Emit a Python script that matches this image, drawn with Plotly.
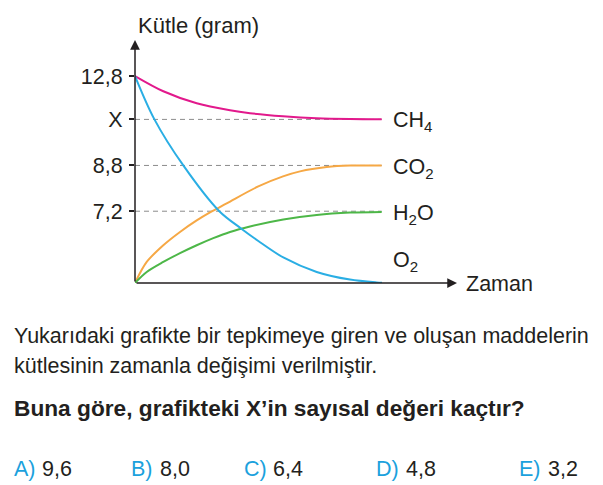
import plotly.graph_objects as go

# ---- data (schematic vertical scale) ----
time_ch4 = [0, 28.3, 61.7, 95, 115, 148, 181.7, 215, 246.7]
mass_ch4 = [206.7, 191.5, 179.5, 172.5, 169.6, 166.6, 164.6, 163.8, 163.6]

time_o2 = [0, 19.3, 48.3, 84.3, 106.7, 123.3, 148.3, 181.7, 215, 241.7, 247]
mass_o2 = [206.7, 163.7, 117.4, 71.7, 54, 42, 25.5, 11, 3.4, 0.6, 0.3]

time_co2 = [0, 11.7, 28.3, 45, 61.7, 75, 91.7, 123.3, 148, 165, 191.7, 215, 246.7]
mass_co2 = [0, 21, 37.7, 51, 62.5, 70.5, 79.5, 96.5, 106.5, 111.5, 115.8, 117.3, 117.4]

time_h2o = [0, 11.7, 28.3, 45, 61.7, 78.3, 95, 115, 148.3, 181.7, 215, 246.7]
mass_h2o = [0, 11, 21, 29.8, 37.7, 44.8, 51, 56.5, 63.5, 68, 70.3, 71]

tick_levels = [206.7, 163.4, 117.4, 71.7]
tick_labels = ["12,8", "X", "8,8", "7,2"]
dashed_levels = [163.4, 117.4, 71.7]

series_names = ["CH<sub>4</sub>", "CO<sub>2</sub>", "H<sub>2</sub>O", "O<sub>2</sub>"]
options_letters = ["A)", "B)", "C)", "D)", "E)"]
options_values = ["9,6", "8,0", "6,4", "4,8", "3,2"]

# ---- layout geometry (pixels) ----
W, H = 603, 485
AX_L, AX_B = 135, 282.7
X_END, Y_END = 457, 40
PW, PH = X_END - AX_L, AX_B - Y_END
FONT = "Liberation Sans, Arial, Helvetica, sans-serif"
BLACK = "#231f20"
FS = 21.5


def px2paper(px):
    return (px - AX_L) / PW


def py2paper(py):
    return (AX_B - py) / PH


fig = go.Figure()

t_end = time_ch4[-1]
for lv in dashed_levels:
    fig.add_trace(go.Scatter(x=[0, t_end], y=[lv, lv], mode="lines",
                             line=dict(color="#8c8c8c", width=1, dash="5px,4px"),
                             hoverinfo="skip", showlegend=False))

curves = [
    (time_ch4, mass_ch4, "#e2198c"),
    (time_co2, mass_co2, "#f6a845"),
    (time_h2o, mass_h2o, "#4db748"),
    (time_o2, mass_o2, "#2aaee4"),
]
for t, m, c in curves:
    fig.add_trace(go.Scatter(x=t, y=m, mode="lines",
                             line=dict(color=c, width=2, shape="spline", smoothing=0.9),
                             showlegend=False))

ann = []
# axes with arrows
ann.append(dict(x=PW, y=0, ax=0, ay=0, xref="x", yref="y", axref="x", ayref="y",
                text="", showarrow=True, arrowhead=2, arrowsize=1.3, arrowwidth=1.5,
                arrowcolor=BLACK, standoff=0, startstandoff=0))
ann.append(dict(x=0, y=PH, ax=0, ay=0, xref="x", yref="y", axref="x", ayref="y",
                text="", showarrow=True, arrowhead=2, arrowsize=1.3, arrowwidth=1.5,
                arrowcolor=BLACK, standoff=0, startstandoff=0))


def text_ann(txt, px, py, size=FS, color=BLACK):
    return dict(x=px2paper(px), y=py2paper(py), xref="paper", yref="paper", text=txt,
                showarrow=False, xanchor="left", yanchor="middle",
                font=dict(family=FONT, size=size, color=color))


ann.append(text_ann("Kütle (gram)", 136, 26, size=22))
ann.append(text_ann("Zaman", 464, 284))

label_y = [121, 168, 214, 261]
for name, ly in zip(series_names, label_y):
    ann.append(text_ann(name, 391, ly))

ann.append(text_ann("Yukarıdaki grafikte bir tepkimeye giren ve oluşan maddelerin", 12, 336))
ann.append(text_ann("kütlesinin zamanla değişimi verilmiştir.", 12, 365.5))
ann.append(text_ann("<b>Buna göre, grafikteki X’in sayısal değeri kaçtır?</b>", 12, 407.5, size=22.7))

opt_letter_x = [12, 129, 242, 374, 517]
opt_value_x = [40, 158, 271, 404, 546]
for lt, vt, lx, vx in zip(options_letters, options_values, opt_letter_x, opt_value_x):
    ann.append(text_ann(lt, lx, 468.5, color="#1ba1dd"))
    ann.append(text_ann(vt, vx, 468.5))

fig.update_layout(
    width=W, height=H,
    margin=dict(l=AX_L, r=W - X_END, t=Y_END, b=H - AX_B, pad=0),
    paper_bgcolor="white", plot_bgcolor="white",
    showlegend=False,
    annotations=ann,
    xaxis=dict(range=[0, PW], showgrid=False, zeroline=False,
               showticklabels=False, ticks="", showline=False, fixedrange=True),
    yaxis=dict(range=[0, PH], showgrid=False, zeroline=False,
               tickmode="array", tickvals=tick_levels, ticktext=tick_labels,
               ticks="outside", ticklen=5, tickwidth=1.5, tickcolor=BLACK,
               showline=False, ticklabelstandoff=2,
               tickfont=dict(family=FONT, size=FS, color=BLACK), fixedrange=True),
)

fig.write_html("out.html", config={"displayModeBar": False},
               post_script="document.body.style.margin='0';document.body.style.overflow='hidden';")
